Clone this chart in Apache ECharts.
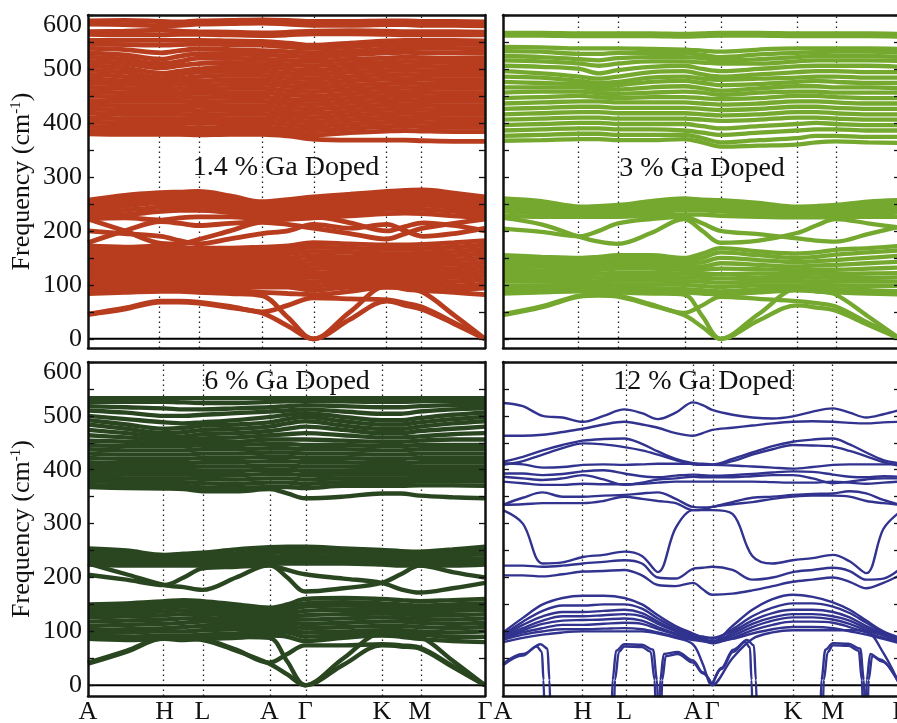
<!DOCTYPE html>
<html><head><meta charset="utf-8">
<script src="https://cdn.jsdelivr.net/npm/echarts@6/dist/echarts.min.js"></script>
<style>html,body{margin:0;padding:0;background:#fff}#c{width:897px;height:723px}</style>
</head><body><div id="c"></div>
<script>
// ---------- high-symmetry path ----------
const kLabels = ['A','H','L','A','Γ','K','M','Γ'];
const kTL = [0,0.1845,0.2776,0.4387,0.567,0.7533,0.844,1];
const kTR = [0,0.193,0.2897,0.456,0.548,0.7406,0.838,1];
const kBL = [0,0.193,0.2885,0.457,0.547,0.740,0.836,1];
const kBR = [0,0.2015,0.3055,0.4786,0.527,0.730,0.831,1];
const yTickValues = [0,50,100,150,200,250,300,350,400,450,500,550,600];
const yLabelValues = [0,100,200,300,400,500,600];
const zeroX = [0,1];
const zeroY = [0,0];

// ---------- sample positions along the path ----------
const xsTL = [0,0.092,0.1845,0.231,0.2776,0.358,0.4387,0.503,0.567,0.660,0.7533,0.799,0.844,0.922,1];
const xsTR = [0,0.0965,0.193,0.2414,0.2897,0.373,0.456,0.502,0.548,0.644,0.7406,0.789,0.838,0.919,1];
const xsBL = [0,0.0965,0.193,0.241,0.2885,0.373,0.457,0.502,0.547,0.6435,0.740,0.788,0.836,0.918,1];
const xsBR = [0,0.05,0.10,0.15,0.2015,0.2535,0.3055,0.35,0.39,0.435,0.4786,0.503,0.527,0.578,0.628,0.679,0.730,0.78,0.831,0.873,0.915,0.958,1];

// ---------- 1.4 % Ga ----------
const tlTop = [
[589,590,588,587,589,590,591,590,588,588,589,589,588,588,587],
[583,582,580,581,583,584,585,583,581,581,582,582,581,581,580],
[569,570,572,570,569,568,567,568,570,571,570,569,569,569,568],
[564,563,563,564,564,563,562,563,565,565,564,563,563,563,563]];
const tlUpper = [
[553,553,553,553,553,552,551,548,544,548,552,553,553,553,552],
[546,545,544,545,546,545,544,541,538,541,545,546,546,546,545],
[538,536,530,534,537,536,534,532,530,533,537,539,538,538,537],
[530,526,518,524,528,528,526,524,522,526,530,531,530,530,529],
[522,518,510,514,520,520,518,516,514,518,520,522,521,520,520],
[514,510,502,506,510,512,510,508,506,510,512,514,513,512,512],
[506,502,492,496,500,504,504,500,498,502,505,506,505,504,504],
[498,494,484,490,494,496,496,492,490,494,497,498,497,496,496],
[490,486,478,482,486,488,488,484,482,486,489,490,489,488,488],
[482,478,474,478,478,480,480,476,474,478,481,482,481,480,480],
[474,472,470,472,470,472,472,468,466,470,473,474,473,472,472],
[466,464,462,464,462,464,464,460,458,462,465,466,465,464,464],
[458,456,456,456,455,456,456,452,450,454,457,458,457,456,456],
[450,448,448,448,447,448,448,444,442,446,449,450,449,448,448],
[442,440,440,440,439,440,440,436,434,438,441,442,441,440,440],
[434,432,432,432,431,432,432,428,426,430,433,434,433,432,432],
[426,424,424,424,423,424,424,420,418,422,425,426,425,424,424],
[418,416,416,416,415,416,416,413,410,414,417,418,417,416,416],
[410,408,408,408,407,408,408,405,402,406,409,410,409,408,408],
[402,400,400,400,399,400,400,397,394,398,401,402,401,400,400],
[394,392,392,392,391,392,392,389,386,390,393,394,393,392,392],
[386,385,385,385,384,385,385,382,378,382,385,386,385,384,384],
[380,379,379,379,378,379,379,376,370,368,368,368,367,366,366]];
const tlLower = [
[257,266,271,272,273,265,254,258,263,268,273,275,276,270,263],
[250,259,264,266,266,258,248,252,256,262,267,269,269,264,256],
[244,252,258,259,260,252,242,246,250,256,261,262,262,257,250],
[238,246,252,252,253,245,236,240,243,249,254,255,255,250,243],
[232,238,244,245,246,240,232,234,236,242,247,248,248,243,236],
[226,230,236,238,238,234,228,228,230,235,240,241,240,236,230],
[222,224,220,224,226,226,222,222,224,228,232,233,232,228,224],
[222,200,177,176,184,200,216,212,205,195,185,195,205,214,222],
[178,200,217,214,210,214,218,222,226,215,200,208,215,210,200],
[200,195,190,182,176,185,195,200,212,205,212,200,190,195,205],
[172,170,172,170,168,168,170,172,178,176,174,174,175,178,182],
[165,163,165,163,161,161,163,165,170,168,166,166,167,170,174],
[158,156,158,156,154,154,156,158,162,160,158,158,159,162,166],
[150,149,151,149,147,147,149,150,154,152,151,151,152,154,158],
[143,142,144,142,140,140,142,143,146,145,144,144,145,146,150],
[136,135,137,135,133,133,135,136,138,138,137,137,138,138,142],
[129,128,130,128,126,126,128,129,130,131,130,130,131,130,134],
[122,121,123,121,119,119,121,122,122,124,123,123,124,122,126],
[115,114,116,114,112,112,114,115,114,117,116,116,117,114,118],
[108,107,109,107,105,105,107,108,106,110,109,109,110,106,110],
[101,100,102,100, 98, 98,100,101, 98,103,102,102,103, 98,102],
[ 94, 96, 96, 94, 92, 93, 96, 96, 90, 96, 96, 96, 97, 92, 94],
[ 45, 55, 68, 68, 66, 58, 48, 24,  0, 36, 70, 62, 54, 28,  0],
[ 46, 57, 70, 70, 68, 60, 50, 62, 76, 74, 72, 66, 58, 30,  0],
[ 84, 86, 88, 88, 86, 84, 80, 40,  0, 50, 98, 92, 86, 44,  0],
[ 90, 92, 96, 95, 90, 88, 86, 84, 82, 88, 96, 94, 90, 86, 82]];

// ---------- 3 % Ga ----------
const trTop = [
[567,567,566,566,566,566,565,566,567,567,566,566,566,566,565],
[562,562,561,561,561,561,560,561,562,562,561,561,561,561,560]];
const trUpper = [
[541,540,538,538,538,537,536,534,532,536,538,538,538,538,537],
[533,532,528,528,530,530,530,526,522,527,530,531,532,532,530],
[524,522,518,516,520,522,522,520,516,518,522,524,524,524,522],
[516,514,510,506,510,514,514,512,510,510,514,516,516,516,515],
[506,504,500,492,498,504,506,500,496,500,505,506,506,506,504],
[496,492,486,482,486,494,496,490,486,490,494,496,496,494,494],
[486,484,478,474,476,484,486,482,480,482,484,486,486,484,484],
[476,474,472,468,470,476,478,474,470,472,476,478,476,474,474],
[466,466,466,462,462,466,468,464,460,464,468,468,466,466,464],
[456,458,458,455,454,456,458,456,452,456,458,458,456,456,456],
[446,448,450,448,446,448,448,446,444,446,450,450,448,446,446],
[436,438,440,440,438,438,438,436,434,436,440,440,438,436,436],
[426,428,430,430,428,428,428,426,424,426,430,430,428,426,426],
[416,418,420,420,418,418,418,416,414,416,420,420,418,416,416],
[406,408,410,410,408,408,408,406,404,406,410,410,408,406,406],
[396,398,400,400,398,398,398,394,390,394,398,400,398,396,396],
[386,388,390,390,388,388,386,382,378,382,386,388,388,386,386],
[376,378,380,380,378,378,378,372,364,368,372,376,376,374,374],
[367,368,370,370,368,368,370,364,356,358,360,364,366,364,363]];
const trLower = [
[260,255,245,246,248,255,260,258,257,252,245,246,248,254,257],
[254,250,242,243,244,250,255,254,252,248,242,242,244,250,252],
[248,244,238,238,239,244,250,249,247,243,238,238,240,244,246],
[242,238,234,234,234,238,244,244,242,238,234,234,236,238,240],
[236,232,230,230,230,233,238,238,236,232,230,230,231,232,234],
[228,226,226,226,226,228,230,230,228,226,225,225,226,226,226],
[224,212,189,180,176,196,222,200,178,182,196,210,222,214,206],
[204,198,190,200,214,222,226,214,200,194,186,182,180,194,208],
[155,152,150,152,155,155,150,158,168,162,158,160,165,168,172],
[148,146,144,146,148,148,145,150,160,155,150,152,156,160,164],
[142,140,138,140,142,142,140,142,150,146,142,144,146,150,154],
[135,134,132,134,136,136,134,134,140,137,134,136,137,140,143],
[128,127,126,128,130,130,128,128,130,129,127,128,128,130,132],
[120,120,120,121,122,122,121,120,120,121,120,121,120,121,122],
[113,113,113,114,115,115,114,113,112,113,113,114,113,113,114],
[106,106,106,107,108,108,107,106,104,106,106,107,106,106,106],
[ 98, 99,100,100,101,101,100, 98, 96, 99, 99,100, 99, 98, 98],
[ 92, 93, 95, 95, 94, 94, 92, 90, 88, 92, 94, 93, 92, 90, 88],
[ 86, 87, 90, 90, 88, 88, 86, 84, 82, 86, 90, 88, 86, 84, 82],
[ 44, 58, 78, 80, 78, 62, 44, 22,  0, 34, 62, 58, 52, 26,  0],
[ 46, 60, 80, 82, 80, 64, 48, 62, 78, 74, 70, 66, 60, 30,  0],
[ 84, 86, 88, 88, 86, 84, 82, 42,  0, 46, 92, 88, 82, 42,  0]];

// ---------- 6 % Ga ----------
const blUpper = [
[533,533,533,533,533,533,533,533,533,533,533,533,533,533,533],
[526,526,526,525,524,524,526,527,528,527,526,526,527,528,528],
[518,516,514,512,512,514,516,518,520,518,516,516,518,520,520],
[510,506,500,500,502,505,508,510,512,508,504,504,508,512,514],
[500,494,488,486,488,492,498,502,505,498,492,492,496,502,506],
[492,484,476,478,482,484,488,494,498,490,484,484,488,494,498],
[484,476,468,470,474,476,480,486,490,482,476,476,480,486,490],
[474,468,462,462,466,468,472,476,480,474,468,468,472,476,480],
[464,460,456,456,458,460,464,466,468,464,460,460,462,466,468],
[454,452,450,450,452,452,456,456,456,454,452,452,454,456,456],
[446,444,444,444,446,446,448,448,446,446,444,444,446,446,446],
[438,436,436,436,438,438,440,440,438,438,436,436,438,438,438],
[430,428,428,428,430,430,432,432,430,430,428,428,430,430,430],
[422,420,420,420,422,422,424,424,422,422,420,420,422,422,422],
[414,412,412,412,414,414,416,416,414,414,412,412,414,414,414],
[407,405,405,405,406,406,408,408,406,406,405,405,406,406,406],
[400,398,398,398,398,398,400,400,398,398,398,398,399,399,399],
[393,391,391,391,390,390,392,392,390,391,391,391,392,392,392],
[386,384,384,384,383,382,384,384,382,384,384,384,385,385,385],
[379,377,377,377,375,374,376,376,374,377,377,377,378,378,378],
[372,370,370,370,367,366,368,368,366,370,370,370,371,371,370],
[368,366,365,364,360,360,364,356,347,350,356,356,352,349,347]];
const blLower = [
[254,250,242,244,246,252,256,257,257,254,251,249,248,252,257],
[248,244,238,239,240,245,250,252,252,249,246,244,243,246,250],
[242,238,234,234,235,240,245,247,247,244,241,239,238,240,244],
[236,234,230,230,231,234,238,240,240,238,236,234,233,234,236],
[230,228,226,226,226,228,232,233,233,232,230,228,228,228,230],
[224,222,222,222,222,224,226,226,226,226,224,222,222,222,224],
[226,206,186,182,177,200,223,200,174,180,190,206,222,210,200],
[205,196,186,200,217,220,222,214,206,198,190,178,172,180,190],
[150,152,156,158,156,150,144,150,160,162,160,158,156,158,160],
[144,146,150,152,150,145,140,144,152,154,152,150,148,150,152],
[138,140,144,146,144,140,136,140,146,148,146,144,142,144,146],
[132,134,137,139,138,134,132,134,138,140,140,138,136,138,140],
[126,128,130,132,132,129,128,128,130,132,133,132,130,130,132],
[118,120,122,124,125,122,122,122,122,124,126,125,123,122,124],
[110,112,114,116,118,116,116,116,114,116,118,118,116,114,116],
[102,104,106,108,110,110,110,110,106,108,110,110,108,106,108],
[ 96, 98,100,100,102,104,104,104, 98,100,102,102,100, 98,100],
[ 90, 90, 92, 92, 94, 96, 98, 98, 90, 94, 96, 96, 94, 90, 90],
[ 86, 84, 86, 84, 86, 88, 92, 90, 82, 88, 92, 90, 86, 82, 80],
[ 40, 62, 87, 86, 84, 64, 40, 20,  0, 38, 74, 72, 68, 34,  0],
[ 42, 64, 88, 88, 86, 66, 42, 58, 74, 74, 76, 74, 70, 36,  0],
[ 86, 88, 92, 92, 92, 90, 88, 44,  0, 50, 96, 94, 90, 46,  0]];

// ---------- 12 % Ga ----------
const brUpper = [
[524,518,500,497,489,500,512,505,494,506,525,520,511,502,497,495,499,508,514,506,497,503,511],
[463,463,465,470,476,484,489,484,478,468,463,468,474,478,482,486,489,490,489,487,486,488,489],
[415,424,436,446,454,457,458,448,434,420,412,411,410,420,432,444,452,456,458,447,432,418,412],
[409,416,428,440,449,447,442,436,428,418,410,409,409,416,428,438,446,445,443,435,425,414,407],
[412,410,404,405,409,410,409,410,411,411,411,410,409,408,406,404,402,405,409,410,410,410,410],
[393,393,390,392,397,399,393,388,386,389,391,390,389,390,392,395,397,396,391,387,386,388,387],
[387,384,381,384,390,382,372,376,382,384,387,386,386,386,388,390,390,384,375,378,382,384,384],
[378,375,372,372,374,373,373,374,376,378,378,378,378,378,378,377,376,376,378,376,374,376,378],
[335,348,358,350,350,352,353,356,358,346,331,330,331,340,348,350,353,355,356,360,356,344,335],
[335,336,338,338,338,342,350,346,342,338,325,326,331,336,340,346,350,352,352,350,342,338,335]];
const brMid = [
[325,300,226,228,238,242,248,240,210,292,325,325,325,318,240,226,232,236,242,230,208,290,322],
[222,222,220,222,226,229,232,226,200,198,216,218,220,214,196,200,210,214,218,212,196,198,216],
[204,204,202,206,211,212,214,204,186,184,190,178,168,170,176,184,192,196,200,192,180,190,204]];
const brArch = [
[98,125,150,162,166,166,162,150,130,110,96,88,80,110,140,160,168,164,154,140,120,100,88],
[94,118,138,148,148,150,150,142,124,106,94,90,86,104,128,144,152,152,146,134,116,98,86],
[92,112,128,136,136,138,140,134,118,102,92,90,88,100,120,134,140,140,136,126,110,96,85],
[90,106,120,128,128,130,132,128,114,100,90,86,82,96,114,126,132,132,128,120,106,94,84],
[88,102,114,120,121,122,124,120,108,96,88,84,80,92,108,120,126,126,122,114,102,92,82],
[86,98,106,112,112,114,116,114,104,94,86,82,78,88,102,112,118,118,116,108,98,88,80],
[84,94,100,104,104,105,106,104,98,90,84,82,80,86,96,104,108,108,106,100,94,86,78],
[80,88,94,98,100,100,100,100,96,88,76,40,0,50,86,98,102,102,102,102,100,60,0]];
const brImagX = [
[0,0.05,0.085,0.098,0.102,0.104],
[0,0.05,0.095,0.112,0.117,0.119],
[0.274,0.276,0.285,0.3055,0.35,0.378,0.388,0.39],
[0.280,0.282,0.292,0.3055,0.35,0.372,0.382,0.384],
[0.394,0.396,0.405,0.44,0.4786,0.503,0.527],
[0.399,0.401,0.41,0.44,0.4786,0.503,0.527],
[0.527,0.55,0.58,0.61,0.622,0.626,0.628],
[0.527,0.55,0.58,0.615,0.632,0.637,0.639],
[0.800,0.802,0.812,0.831,0.87,0.9,0.909,0.911],
[0.806,0.808,0.818,0.831,0.87,0.896,0.904,0.906],
[0.914,0.916,0.925,0.95,1],
[0.919,0.921,0.93,0.955,1]];
const brImagY = [
[37,55,72,62,10,-40],
[40,58,76,68,10,-40],
[-40,10,64,76,75,66,10,-40],
[-40,10,62,72,71,62,10,-40],
[-40,10,58,62,46,24,0],
[-40,10,54,58,42,22,0],
[0,30,62,80,70,10,-40],
[0,32,66,84,74,10,-40],
[-40,10,66,78,77,68,10,-40],
[-40,10,62,74,73,64,10,-40],
[-40,10,58,48,0],
[-40,10,54,44,0]];

// ---------- layout / style ----------
const FONT = "'Liberation Serif', 'Times New Roman', serif";
const panels = [
  {grid:{left:88,top:15,width:397,height:333}, ymin:-17, k:kTL, color:'#B83C1E', lw:4.8,
   title:'1.4 % Ga Doped', tx:286, ty:168, xl:false, yl:true,
   groups:[[xsTL,tlTop],[xsTL,tlUpper],[xsTL,tlLower]]},
  {grid:{left:503,top:15,width:397,height:333}, ymin:-17, k:kTR, color:'#74A82E', lw:4.3,
   title:'3 % Ga Doped', tx:702, ty:169, xl:false, yl:false,
   groups:[[xsTR,trTop],[xsTR,trUpper],[xsTR,trLower]]},
  {grid:{left:88,top:362,width:397,height:334}, ymin:-20, k:kBL, color:'#2A4620', lw:4.4,
   title:'6 % Ga Doped', tx:287, ty:382, xl:true, yl:true,
   groups:[[xsBL,blUpper],[xsBL,blLower]]},
  {grid:{left:503,top:362,width:397,height:334}, ymin:-20, k:kBR, color:'#31338F', lw:2.4,
   title:'12 % Ga Doped', tx:703, ty:382, xl:true, yl:false,
   groups:[[xsBR,brUpper],[xsBR,brMid],[xsBR,brArch]]}
];

const grids=[], xAxes=[], yAxes=[], series=[], titles=[];
const frame = {show:true, onZero:false, lineStyle:{color:'#111', width:2.5}};
panels.forEach((p,i)=>{
  grids.push(Object.assign({outerBoundsMode:'none', containLabel:false}, p.grid));
  const xi = 2*i, yi = 2*i;
  xAxes.push({gridIndex:i, type:'value', min:0, max:1, position:'bottom', z:10,
    axisLine:frame, axisTick:{show:false}, splitLine:{show:false},
    axisLabel: p.xl ? {show:true, customValues:p.k, showMinLabel:true, showMaxLabel:true,
      formatter:(v)=>{const j=p.k.indexOf(v); return j>=0?kLabels[j]:'';},
      fontFamily:FONT, fontSize:26, color:'#111', margin:3} : {show:false}});
  xAxes.push({gridIndex:i, type:'value', min:0, max:1, position:'top', z:10,
    axisLine:frame, axisTick:{show:false}, splitLine:{show:false}, axisLabel:{show:false}});
  const tick = {show:true, inside:true, length:6, customValues:yTickValues, lineStyle:{color:'#111', width:1.3}};
  yAxes.push({gridIndex:i, type:'value', min:p.ymin, max:600, position:'left', z:10,
    axisLine:frame, axisTick:tick, splitLine:{show:false},
    axisLabel: p.yl ? {show:true, customValues:yLabelValues, fontFamily:FONT, fontSize:26, color:'#111', margin:6,
      formatter:(v)=> v===600 ? '{d|600}' : String(v),
      rich:{d:{fontFamily:FONT, fontSize:26, color:'#111', padding:[20,0,0,0]}}} : {show:false},
    name: p.yl ? 'Frequency (cm{s|-1})' : '', nameLocation:'middle', nameGap:52,
    nameTextStyle:{fontFamily:FONT, fontSize:26, color:'#111',
      rich:{s:{fontFamily:FONT, fontSize:15, color:'#111', verticalAlign:'top', padding:[0,0,12,0]}}}});
  yAxes.push({gridIndex:i, type:'value', min:p.ymin, max:600, position:'right', z:10,
    axisLine:frame, axisTick:tick, splitLine:{show:false}, axisLabel:{show:false}});
  // zero line + dotted high-symmetry markers (beneath the bands)
  series.push({type:'line', xAxisIndex:xi, yAxisIndex:yi, z:1, silent:true, animation:false, symbol:'none',
    data: zeroX.map((x,j)=>[x, zeroY[j]]), lineStyle:{color:'#000', width:2},
    markLine:{silent:true, z:1, symbol:['none','none'], label:{show:false}, animation:false,
      lineStyle:{type:[1.5,3.5], color:'#222', width:1.3},
      data: p.k.slice(1,-1).map(x=>({xAxis:x}))}});
  p.groups.forEach(([xs, bands])=>{
    bands.forEach(b=>{
      series.push({type:'line', xAxisIndex:xi, yAxisIndex:yi, z:2, silent:true, animation:false,
        symbol:'none', smooth:0.35, data: b.map((v,j)=>[xs[j], v]),
        lineStyle:{color:p.color, width:p.lw}});
    });
  });
  if (i===3) {
    brImagX.forEach((xs,m)=>{
      series.push({type:'line', xAxisIndex:xi, yAxisIndex:yi, z:2, silent:true, animation:false,
        symbol:'none', smooth:0.35, smoothMonotone:'x', data: xs.map((x,j)=>[x, brImagY[m][j]]),
        lineStyle:{color:p.color, width:p.lw}});
    });
  }
  titles.push({text:p.title, left:p.tx, top:p.ty, textAlign:'center', textVerticalAlign:'middle', padding:0, z:8,
    textStyle:{fontFamily:FONT, fontSize:28, fontWeight:'normal', color:'#111'}});
});

const chart = echarts.init(document.getElementById('c'), null, {renderer:'canvas'});
chart.setOption({
  backgroundColor:'#fff', animation:false, textStyle:{fontFamily:FONT},
  title:titles, grid:grids, xAxis:xAxes, yAxis:yAxes, series:series
});
</script></body></html>
